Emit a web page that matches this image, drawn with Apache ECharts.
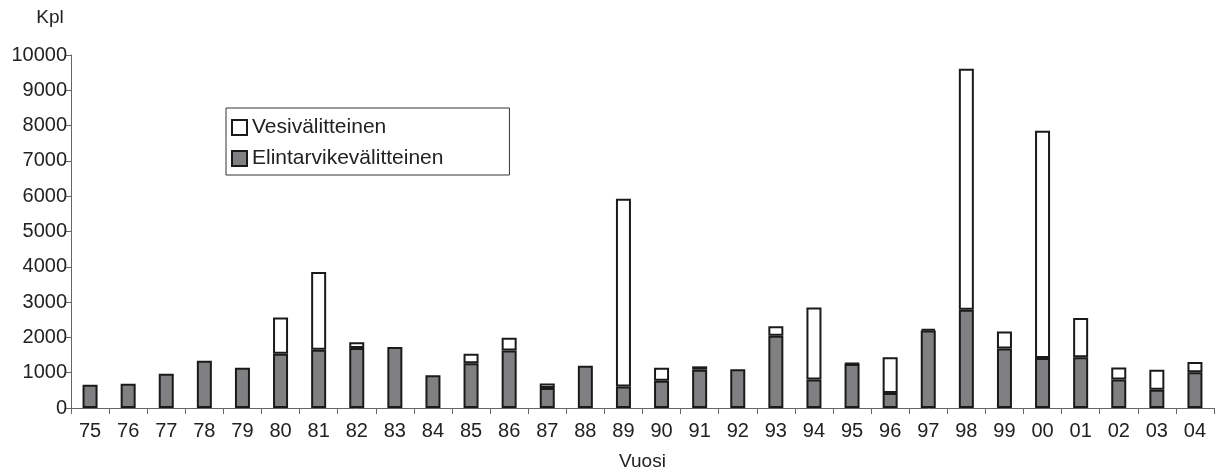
<!DOCTYPE html>
<html><head><meta charset="utf-8">
<script src="https://cdn.jsdelivr.net/npm/echarts@6/dist/echarts.min.js"></script>
<style>html,body{margin:0;padding:0;background:#fff}#c{width:1217px;height:471px}</style>
</head><body><div id="c"></div>
<script>
const years = ['75','76','77','78','79','80','81','82','83','84','85','86','87','88','89','90','91','92','93','94','95','96','97','98','99','00','01','02','03','04'];
const elintarvike = [660,690,970,1340,1140,1535,1650,1700,1725,925,1270,1630,565,1195,610,770,1085,1095,2045,810,1250,425,2195,2780,1685,1415,1440,810,520,1010];
const vesi = [0,0,0,0,0,1030,2200,160,0,0,270,360,130,0,5320,370,95,0,270,2035,15,1015,40,6830,480,6440,1110,340,565,290];
const yTicks = [0,1000,2000,3000,4000,5000,6000,7000,8000,9000,10000];

const font = 'Liberation Sans, Arial, sans-serif';
const chart = echarts.init(document.getElementById('c'), null, {renderer:'canvas'});
chart.setOption({
  animation:false,
  backgroundColor:'#fff',
  textStyle:{fontFamily:font},
  grid:{left:71, right:3, top:55, bottom:63, containLabel:false, outerBoundsMode:'none'},
  legend:{
    orient:'vertical', left:226, top:108,
    data:['Vesivälitteinen','Elintarvikevälitteinen'],
    icon:'rect', itemWidth:15, itemHeight:15, itemGap:10,
    borderColor:'#333', borderWidth:1, padding:[9,66,6,5],
    textStyle:{fontSize:21, color:'#222', fontFamily:font},
    selectedMode:false
  },
  xAxis:{
    type:'category', data:years, name:'Vuosi', nameLocation:'middle', nameGap:44,
    nameTextStyle:{fontSize:19,color:'#222',fontFamily:font},
    axisLine:{lineStyle:{color:'#666',width:1}},
    axisTick:{show:true, alignWithLabel:false, length:6, lineStyle:{color:'#666'}},
    axisLabel:{fontSize:20, color:'#222', margin:13, fontFamily:font, interval:0},
    boundaryGap:true
  },
  yAxis:{
    type:'value', min:yTicks[0], max:yTicks[yTicks.length-1], interval:1000,
    name:'Kpl', nameLocation:'end', nameGap:28,
    nameTextStyle:{fontSize:19,color:'#222',align:'center',padding:[0,42,0,0],fontFamily:font},
    axisLine:{show:true,lineStyle:{color:'#666',width:1}},
    axisTick:{show:true,length:5,lineStyle:{color:'#666'}},
    splitLine:{show:false},
    axisLabel:{fontSize:20,color:'#222',margin:4,fontFamily:font,formatter:v=>String(v)}
  },
  series:[
    {name:'Elintarvikevälitteinen', type:'bar', stack:'a', barWidth:15,
     data:elintarvike,
     itemStyle:{color:'#808082', borderColor:'#1a1a1a', borderWidth:2}},
    {name:'Vesivälitteinen', type:'bar', stack:'a', barWidth:15,
     data:vesi.map(v=>v===0?'-':v),
     itemStyle:{color:'#ffffff', borderColor:'#1a1a1a', borderWidth:2}}
  ]
});
</script></body></html>
